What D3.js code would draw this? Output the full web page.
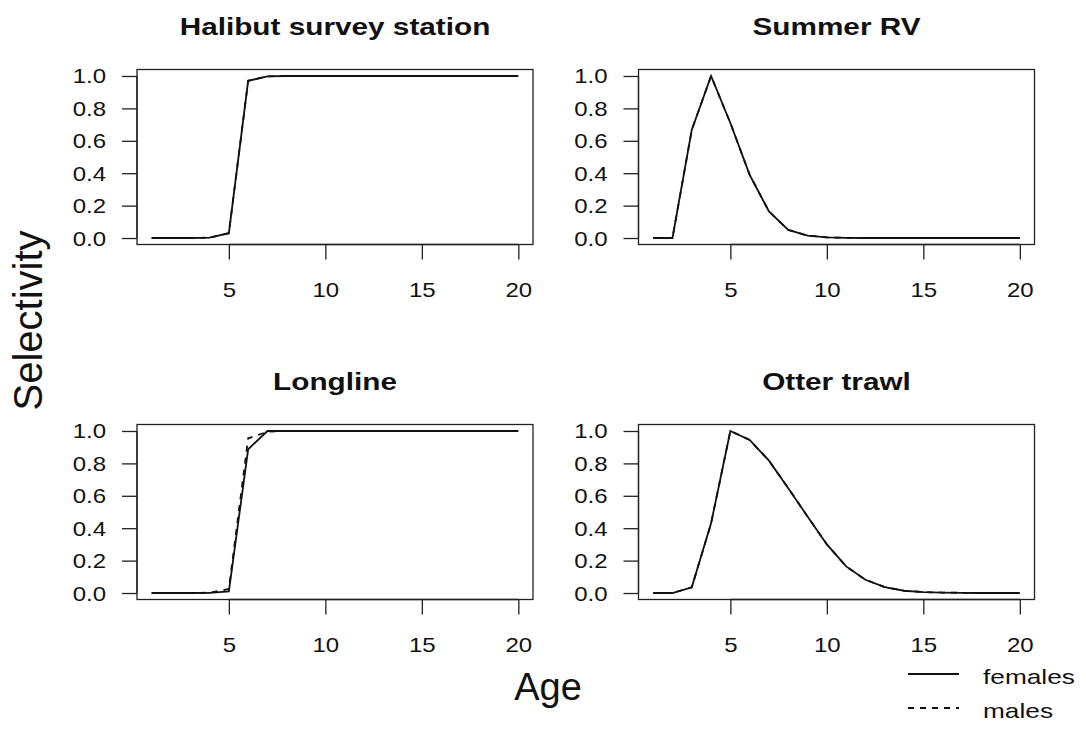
<!DOCTYPE html>
<html>
<head>
<meta charset="utf-8">
<script src="https://cdn.jsdelivr.net/npm/d3@7"></script>
<style>
  html, body { margin: 0; padding: 0; background: #fff; }
  text { font-family: "Liberation Sans", Arial, Helvetica, sans-serif; fill: #111; }
</style>
</head>
<body>
<div id="chart"></div>
<script>
const ages = d3.range(1, 21);
const panelTitles = ["Halibut survey station", "Summer RV", "Longline", "Otter trawl"];
const xTicks = [5, 10, 15, 20];
const yTicks = [0, 0.2, 0.4, 0.6, 0.8, 1.0];

const halibutFemales = [0, 0, 0, 0.002, 0.03, 0.97, 0.998, 1, 1, 1, 1, 1, 1, 1, 1, 1, 1, 1, 1, 1];
const halibutMales   = [0, 0, 0, 0.002, 0.03, 0.97, 0.998, 1, 1, 1, 1, 1, 1, 1, 1, 1, 1, 1, 1, 1];
const summerFemales  = [0, 0, 0.667, 1, 0.71, 0.39, 0.164, 0.05, 0.015, 0.004, 0.001, 0, 0, 0, 0, 0, 0, 0, 0, 0];
const summerMales    = [0, 0, 0.667, 1, 0.71, 0.39, 0.164, 0.05, 0.015, 0.004, 0.001, 0, 0, 0, 0, 0, 0, 0, 0, 0];
const longlineFemales = [0, 0, 0, 0.001, 0.01, 0.887, 1, 1, 1, 1, 1, 1, 1, 1, 1, 1, 1, 1, 1, 1];
const longlineMales   = [0, 0, 0, 0.002, 0.025, 0.955, 0.995, 1, 1, 1, 1, 1, 1, 1, 1, 1, 1, 1, 1, 1];
const otterFemales = [0, 0, 0.035, 0.43, 1, 0.945, 0.817, 0.647, 0.472, 0.30, 0.164, 0.082, 0.037, 0.014, 0.006, 0.003, 0.001, 0, 0, 0];
const otterMales   = [0, 0, 0.035, 0.43, 1, 0.945, 0.817, 0.647, 0.472, 0.30, 0.164, 0.082, 0.037, 0.014, 0.006, 0.003, 0.001, 0, 0, 0];

const legendLabels = ["females", "males"];

const panels = [
  { title: panelTitles[0], females: halibutFemales, males: halibutMales, col: 0, row: 0 },
  { title: panelTitles[1], females: summerFemales, males: summerMales, col: 1, row: 0 },
  { title: panelTitles[2], females: longlineFemales, males: longlineMales, col: 0, row: 1 },
  { title: panelTitles[3], females: otterFemales, males: otterMales, col: 1, row: 1 }
];

const width = 1086, height = 744;
const colLeft = [137, 638.5];
const rowTop = [69.5, 424.5];
const pw = 396, ph = 175;
const tickLen = 15;
const dash = "6,6";

const svg = d3.select("#chart").append("svg")
  .attr("width", width)
  .attr("height", height);

// stretch text horizontally a bit, the source renders wide glyphs
function wide(sel, sx) {
  sel.attr("transform", function () {
    const t = d3.select(this).attr("data-t") || "";
    return t + " scale(" + sx + ",1)";
  });
}

const line = d3.line();

panels.forEach(p => {
  const left = colLeft[p.col], top = rowTop[p.row];
  const x = d3.scaleLinear().domain([0.24, 20.76]).range([left, left + pw]);
  const y = d3.scaleLinear().domain([-0.04, 1.04]).range([top + ph, top]);

  const g = svg.append("g");

  // x axis
  const xa = g.append("g")
    .attr("transform", "translate(0," + (top + ph) + ")")
    .call(d3.axisBottom(x).tickValues(xTicks).tickSize(tickLen).tickSizeOuter(0).tickFormat(d3.format("d")));
  xa.select(".domain").attr("d", "M" + x(xTicks[0]) + ",0H" + x(xTicks[xTicks.length - 1]));
  xa.selectAll("line, path").attr("stroke", "#222").attr("stroke-width", 1.3);
  xa.selectAll("text")
    .attr("y", 0).attr("dy", null)
    .attr("font-size", 20)
    .attr("data-t", "translate(0,52)")
    .call(wide, 1.2);

  // y axis
  const ya = g.append("g")
    .attr("transform", "translate(" + left + ",0)")
    .call(d3.axisLeft(y).tickValues(yTicks).tickSize(tickLen).tickSizeOuter(0).tickFormat(d3.format(".1f")));
  ya.select(".domain").attr("d", "M0," + y(0) + "V" + y(1));
  ya.selectAll("line, path").attr("stroke", "#222").attr("stroke-width", 1.3);
  ya.selectAll("text")
    .attr("x", 0).attr("dy", "0.35em")
    .attr("font-size", 20)
    .attr("data-t", "translate(-31,0)")
    .call(wide, 1.2);

  // box
  g.append("rect")
    .attr("x", left).attr("y", top)
    .attr("width", pw).attr("height", ph)
    .attr("fill", "none")
    .attr("stroke", "#222")
    .attr("stroke-width", 1.3);

  // curves
  const fem = ages.map((a, i) => [x(a), y(p.females[i])]);
  const mal = ages.map((a, i) => [x(a), y(p.males[i])]);
  g.append("path").attr("d", line(fem))
    .attr("fill", "none").attr("stroke", "#111").attr("stroke-width", 1.8);
  g.append("path").attr("d", line(mal))
    .attr("fill", "none").attr("stroke", "#111").attr("stroke-width", 1.8)
    .attr("stroke-dasharray", dash);

  // title
  g.append("text")
    .attr("text-anchor", "middle")
    .attr("font-size", 24)
    .attr("font-weight", "bold")
    .attr("data-t", "translate(" + (left + pw / 2) + "," + (top - 34.5) + ")")
    .call(wide, 1.24)
    .text(p.title);
});

// shared axis labels
svg.append("text")
  .attr("text-anchor", "middle")
  .attr("font-size", 40)
  .attr("transform", "translate(42,320.5) rotate(-90)")
  .text("Selectivity");

svg.append("text")
  .attr("text-anchor", "middle")
  .attr("font-size", 38)
  .attr("transform", "translate(548,700)")
  .text("Age");

// legend
const legend = svg.append("g").attr("transform", "translate(908,674)");
legendLabels.forEach((lab, i) => {
  const r = legend.append("g").attr("transform", "translate(0," + i * 34 + ")");
  r.append("line")
    .attr("x1", 0).attr("x2", 51).attr("y1", 0).attr("y2", 0)
    .attr("stroke", "#111").attr("stroke-width", 1.8)
    .attr("stroke-dasharray", i === 1 ? dash : null);
  r.append("text")
    .attr("font-size", 21)
    .attr("data-t", "translate(75,10)")
    .call(wide, 1.25)
    .text(lab);
});
</script>
</body>
</html>
